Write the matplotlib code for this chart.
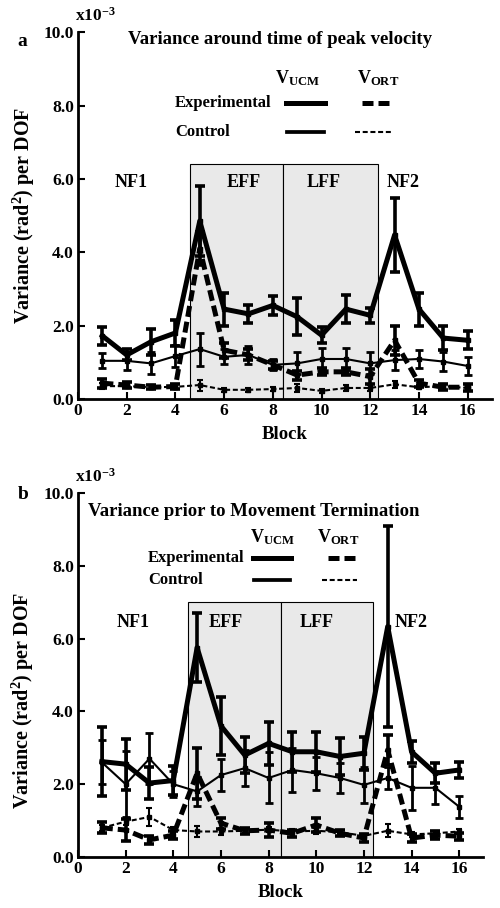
import numpy as np
import matplotlib
matplotlib.use('Agg')
import matplotlib.pyplot as plt
from matplotlib.patches import Rectangle

plt.rcParams['font.family'] = ['Liberation Serif', 'DejaVu Serif']
plt.rcParams['font.weight'] = 'bold'
plt.rcParams['mathtext.fontset'] = 'custom'
plt.rcParams['mathtext.rm'] = 'Liberation Serif:bold'
plt.rcParams['mathtext.bf'] = 'Liberation Serif:bold'
plt.rcParams['mathtext.it'] = 'Liberation Serif:bold'

blocks = np.arange(1, 17)

# Panel a: variance around time of peak velocity (x10^-3)
a_exp_ucm = [1.72, 1.2, 1.56, 1.8, 4.85, 2.45, 2.32, 2.55, 2.24, 1.74, 2.45, 2.28, 4.47, 2.45, 1.66, 1.6]
a_exp_ucm_err = [0.25, 0.15, 0.35, 0.35, 0.95, 0.45, 0.25, 0.25, 0.5, 0.22, 0.38, 0.2, 1.0, 0.45, 0.32, 0.25]
a_ctl_ucm = [1.04, 1.04, 0.97, 1.17, 1.36, 1.15, 1.2, 0.93, 0.97, 1.09, 1.09, 0.97, 1.06, 1.09, 1.02, 0.9]
a_ctl_ucm_err = [0.2, 0.25, 0.3, 0.3, 0.45, 0.2, 0.25, 0.15, 0.3, 0.3, 0.3, 0.3, 0.27, 0.25, 0.25, 0.25]
a_exp_ort = [0.43, 0.38, 0.32, 0.34, 4.1, 1.33, 1.2, 0.93, 0.65, 0.74, 0.74, 0.61, 1.6, 0.43, 0.32, 0.32]
a_exp_ort_err = [0.12, 0.08, 0.06, 0.08, 0.45, 0.2, 0.15, 0.1, 0.12, 0.1, 0.1, 0.2, 0.4, 0.1, 0.08, 0.1]
a_ctl_ort = [0.35, 0.35, 0.32, 0.33, 0.38, 0.25, 0.25, 0.27, 0.3, 0.22, 0.3, 0.3, 0.4, 0.32, 0.35, 0.3]
a_ctl_ort_err = [0.08, 0.06, 0.05, 0.06, 0.15, 0.05, 0.05, 0.06, 0.1, 0.05, 0.08, 0.08, 0.1, 0.06, 0.06, 0.06]

# Panel b: variance prior to movement termination (x10^-3)
b_exp_ucm = [2.62, 2.55, 2.03, 2.1, 5.75, 3.6, 2.8, 3.12, 2.89, 2.89, 2.76, 2.85, 6.33, 2.89, 2.3, 2.39]
b_exp_ucm_err = [0.95, 0.7, 0.45, 0.4, 0.95, 0.8, 0.5, 0.6, 0.55, 0.55, 0.5, 0.45, 2.75, 0.3, 0.28, 0.22]
b_ctl_ucm = [2.6, 2.0, 2.7, 2.0, 1.8, 2.25, 2.44, 2.17, 2.39, 2.3, 2.17, 1.98, 2.17, 1.9, 1.9, 1.38]
b_ctl_ucm_err = [0.6, 0.9, 0.7, 0.35, 0.4, 0.45, 0.5, 0.7, 0.6, 0.45, 0.4, 0.5, 0.3, 0.6, 0.45, 0.3]
b_exp_ort = [0.8, 0.74, 0.47, 0.6, 2.3, 0.93, 0.72, 0.74, 0.65, 0.88, 0.65, 0.52, 2.94, 0.52, 0.6, 0.57]
b_exp_ort_err = [0.15, 0.3, 0.1, 0.12, 0.7, 0.15, 0.08, 0.2, 0.1, 0.2, 0.08, 0.12, 0.4, 0.1, 0.1, 0.1]
b_ctl_ort = [0.8, 0.97, 1.1, 0.74, 0.7, 0.7, 0.72, 0.75, 0.7, 0.72, 0.68, 0.58, 0.72, 0.62, 0.65, 0.7]
b_ctl_ort_err = [0.08, 0.1, 0.25, 0.08, 0.15, 0.1, 0.06, 0.06, 0.06, 0.08, 0.06, 0.06, 0.18, 0.06, 0.06, 0.06]

# phase boundaries
phase_a = {'eff': (4.58, 8.4), 'lff': (8.4, 12.33), 'top': 6.4}
phase_b = {'eff': (4.6, 8.52), 'lff': (8.52, 12.4), 'top': 7.0}

thick = 3.6
thin = 1.5
exp_dash = (0, (2.2, 1.0))
ctl_dash = (0, (2.4, 1.3))


def draw_series(ax, y, err, lw, ls, elw, cap):
    ax.errorbar(blocks, y, yerr=err, color='black', lw=lw, ls=ls,
                elinewidth=elw, capsize=cap, capthick=elw,
                marker='s', ms=3 if lw > 2 else 2.5, zorder=3)


def style_axes(ax):
    ax.set_xlim(0, 17)
    ax.set_ylim(0, 10)
    ax.set_xticks(range(0, 17, 2))
    ax.set_yticks(np.arange(0, 10.1, 2))
    ax.set_yticklabels(['%.1f' % v for v in np.arange(0, 10.1, 2)])
    for s in ['top', 'right']:
        ax.spines[s].set_visible(False)
    for s in ['left', 'bottom']:
        ax.spines[s].set_linewidth(2.0)
    ax.tick_params(direction='in', length=5, width=1.5, labelsize=12.5, pad=3)
    for lab in ax.get_xticklabels() + ax.get_yticklabels():
        lab.set_fontweight('bold')
    ax.set_xlabel('Block', fontsize=13.5, fontweight='bold', labelpad=5)
    ax.set_ylabel('Variance (rad$^{2}$) per DOF', fontsize=14.5, fontweight='bold')
    ax.annotate('x10$^{-3}$', xy=(0, 1), xycoords='axes fraction', xytext=(-2, 5),
                textcoords='offset points', fontsize=12.5, ha='left', va='bottom')


def draw_phases(ax, ph):
    for lo, hi in (ph['eff'], ph['lff']):
        ax.add_patch(Rectangle((lo, 0), hi - lo, ph['top'], facecolor='#e9e9e9',
                               edgecolor='black', lw=0.8, zorder=1))


def draw_legend(ax, hx, hy, tx, rows, ucm_seg, ort_seg_e, ort_seg_c):
    tr = ax.transAxes
    ax.text(hx[0], hy, 'V$_{\\mathrm{UCM}}$', transform=tr, ha='center', va='center', fontsize=13)
    ax.text(hx[1], hy, 'V$_{\\mathrm{ORT}}$', transform=tr, ha='center', va='center', fontsize=13)
    ax.text(tx, rows[0], 'Experimental', transform=tr, ha='left', va='center', fontsize=12)
    ax.text(tx, rows[1], 'Control', transform=tr, ha='left', va='center', fontsize=12)
    ax.plot(ucm_seg[0], [rows[0]] * 2, transform=tr, color='black', lw=thick)
    ax.plot(ort_seg_e, [rows[0]] * 2, transform=tr, color='black', lw=thick, ls=exp_dash)
    ax.plot(ucm_seg[1], [rows[1]] * 2, transform=tr, color='black', lw=thick * 0.75)
    ax.plot(ort_seg_c, [rows[1]] * 2, transform=tr, color='black', lw=thin, ls=ctl_dash)


fig = plt.figure(figsize=(5.0, 9.08), dpi=100)

# ---------- panel a ----------
ax1 = fig.add_axes([0.156, 0.5606, 0.828, 0.404])
draw_phases(ax1, phase_a)
draw_series(ax1, a_exp_ucm, a_exp_ucm_err, thick, '-', 2.6, 3.5)
draw_series(ax1, a_ctl_ucm, a_ctl_ucm_err, thin, '-', 2.0, 3.0)
draw_series(ax1, a_exp_ort, a_exp_ort_err, thick, exp_dash, 2.6, 3.5)
draw_series(ax1, a_ctl_ort, a_ctl_ort_err, thin, ctl_dash, 1.5, 2.5)
style_axes(ax1)
ax1.yaxis.set_label_coords(-0.1, 0.5)
ax1.text(0.488, 0.981, 'Variance around time of peak velocity', transform=ax1.transAxes,
         ha='center', va='center', fontsize=13.5)
ax1.text(-0.135, 0.975, 'a', transform=ax1.transAxes, ha='center', va='center', fontsize=14)
for lab, xp in [('NF1', 2.2), ('EFF', 6.8), ('LFF', 10.1), ('NF2', 13.35)]:
    ax1.text(xp, 5.9, lab, ha='center', va='center', fontsize=13, zorder=4)
draw_legend(ax1, (0.529, 0.725), 0.875, 0.234, (0.807, 0.728),
            ((0.502, 0.597), (0.505, 0.595)), (0.686, 0.756), (0.669, 0.758))

# ---------- panel b ----------
ax2 = fig.add_axes([0.156, 0.0562, 0.81, 0.4009])
draw_phases(ax2, phase_b)
draw_series(ax2, b_exp_ucm, b_exp_ucm_err, thick, '-', 2.6, 3.5)
draw_series(ax2, b_ctl_ucm, b_ctl_ucm_err, thin, '-', 2.0, 3.0)
draw_series(ax2, b_exp_ort, b_exp_ort_err, thick, exp_dash, 2.6, 3.5)
draw_series(ax2, b_ctl_ort, b_ctl_ort_err, thin, ctl_dash, 1.5, 2.5)
style_axes(ax2)
ax2.yaxis.set_label_coords(-0.103, 0.43)
ax2.text(0.025, 0.948, 'Variance prior to Movement Termination', transform=ax2.transAxes,
         ha='left', va='center', fontsize=13.5)
ax2.text(-0.135, 0.995, 'b', transform=ax2.transAxes, ha='center', va='center', fontsize=14)
for lab, xp in [('NF1', 2.3), ('EFF', 6.2), ('LFF', 10.0), ('NF2', 14.0)]:
    ax2.text(xp, 6.43, lab, ha='center', va='center', fontsize=13, zorder=4)
draw_legend(ax2, (0.479, 0.642), 0.879, 0.173, (0.821, 0.761),
            ((0.432, 0.526), (0.435, 0.523)), (0.617, 0.686), (0.602, 0.689))

fig.savefig('out.png', dpi=100)
